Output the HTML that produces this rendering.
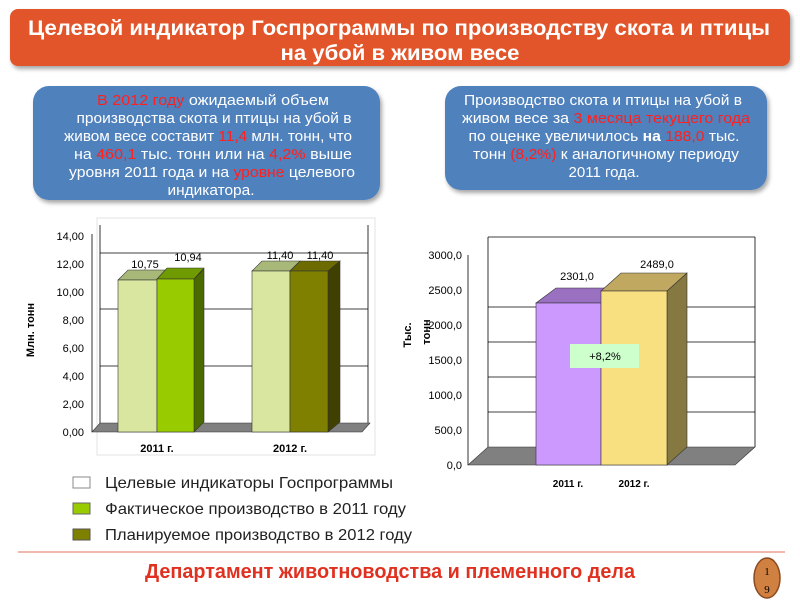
<!DOCTYPE html>
<html><head><meta charset="utf-8"><style>
body{margin:0;width:800px;height:600px;background:#fff;overflow:hidden;font-family:"Liberation Sans",sans-serif}
svg{position:absolute;left:0;top:0}
</style></head><body>
<svg width="800" height="600" xmlns="http://www.w3.org/2000/svg" font-family="Liberation Sans, sans-serif">
<defs>
<filter id="sh" x="-5%" y="-5%" width="115%" height="125%"><feDropShadow dx="2" dy="3" stdDeviation="2" flood-opacity="0.35"/></filter>
</defs>
<rect x="10" y="9" width="780" height="57" rx="8" fill="#e2542a" filter="url(#sh)"/>
<text x="399" y="35" fill="#fff" font-size="21" font-weight="bold" text-anchor="middle" textLength="742" lengthAdjust="spacingAndGlyphs">Целевой индикатор Госпрограммы по производству скота и птицы</text>
<text x="400" y="60" fill="#fff" font-size="21" font-weight="bold" text-anchor="middle" textLength="239" lengthAdjust="spacingAndGlyphs">на убой в живом весе</text>

<rect x="33" y="86" width="347" height="114" rx="16" fill="#4f81bd" filter="url(#sh)"/>
<g font-size="14.5" fill="#fff" text-anchor="middle">
<text x="213" y="105" textLength="232" lengthAdjust="spacingAndGlyphs"><tspan fill="#ff2020">В 2012 году</tspan>  ожидаемый объем</text>
<text x="214" y="123" textLength="275" lengthAdjust="spacingAndGlyphs">производства скота и птицы на убой в</text>
<text x="208" y="141" textLength="288" lengthAdjust="spacingAndGlyphs">живом весе составит <tspan fill="#ff2020">11,4</tspan>  млн. тонн, что</text>
<text x="213" y="159" textLength="278" lengthAdjust="spacingAndGlyphs">на <tspan fill="#ff2020">460,1</tspan> тыс. тонн или на  <tspan fill="#ff2020">4,2%</tspan>  выше</text>
<text x="212" y="177" textLength="286" lengthAdjust="spacingAndGlyphs">уровня 2011 года и на <tspan fill="#ff2020">уровне</tspan> целевого</text>
<text x="211" y="195" textLength="87" lengthAdjust="spacingAndGlyphs">индикатора.</text>
</g>
<rect x="445" y="86" width="322" height="104" rx="16" fill="#4f81bd" filter="url(#sh)"/>
<g font-size="14.5" fill="#fff" text-anchor="middle">
<text x="603" y="105" textLength="278" lengthAdjust="spacingAndGlyphs">Производство скота и птицы на убой в</text>
<text x="606" y="123" textLength="288" lengthAdjust="spacingAndGlyphs">живом весе за <tspan fill="#ff2020">3 месяца текущего года</tspan></text>
<text x="604" y="141" textLength="271" lengthAdjust="spacingAndGlyphs">по оценке увеличилось <tspan font-weight="bold">на</tspan> <tspan fill="#ff2020">188,0</tspan> тыс.</text>
<text x="606" y="159" textLength="266" lengthAdjust="spacingAndGlyphs">тонн <tspan fill="#ff2020">(8,2%)</tspan>  к аналогичному периоду</text>
<text x="604" y="177" textLength="71" lengthAdjust="spacingAndGlyphs">2011 года.</text>
</g>

<!-- left chart -->
<rect x="97" y="218" width="278" height="237" stroke="#ddd" stroke-width="0.8" fill="none"/>
<g stroke="#000" stroke-width="0.8">
<line x1="100" y1="225" x2="100" y2="423"/>
<line x1="100" y1="253" x2="368" y2="253"/>
<line x1="100" y1="309" x2="368" y2="309"/>
<line x1="100" y1="366" x2="368" y2="366"/>
<line x1="368" y1="225" x2="368" y2="423"/>
<line x1="92" y1="234" x2="92" y2="432"/>
</g>
<polygon points="92,432 100,423 370,423 362,432" fill="#808080" stroke="#333" stroke-width="0.6"/>
<g font-size="11" fill="#000" text-anchor="end">
<text x="84" y="240">14,00</text><text x="84" y="268">12,00</text><text x="84" y="296">10,00</text>
<text x="84" y="324">8,00</text><text x="84" y="352">6,00</text><text x="84" y="380">4,00</text>
<text x="84" y="408">2,00</text><text x="84" y="436">0,00</text>
</g>
<text transform="translate(34,330) rotate(-90)" font-size="11" font-weight="bold" text-anchor="middle">Млн. тонн</text>
<g stroke="#333" stroke-width="0.6">
<polygon points="118,280 157,280 167,270 128,270" fill="#a8b878"/>
<rect x="118" y="280" width="39" height="152" fill="#d9e6a0"/>
<polygon points="157,279 194,279 204,269 204,422 194,432" fill="#4a6a00"/>
<polygon points="157,279 194,279 204,268 167,268" fill="#6f9a00"/>
<rect x="157" y="279" width="37" height="153" fill="#99cc00"/>
<polygon points="252,271 290,271 300,261 262,261" fill="#a8b878"/>
<rect x="252" y="271" width="38" height="161" fill="#d9e6a0"/>
<polygon points="328,271 340,261 340,422 328,432" fill="#404000"/>
<polygon points="290,271 328,271 340,261 300,261" fill="#6b6b00"/>
<rect x="290" y="271" width="38" height="161" fill="#808000"/>
</g>
<g font-size="11" text-anchor="middle">
<text x="145" y="268">10,75</text><text x="188" y="261">10,94</text>
<text x="280" y="259">11,40</text><text x="320" y="259">11,40</text>
</g>
<g font-size="11" font-weight="bold" text-anchor="middle">
<text x="157" y="452">2011 г.</text><text x="290" y="452">2012 г.</text>
</g>

<!-- legend -->
<rect x="73" y="477" width="17" height="11" fill="#fff" stroke="#888"/>
<rect x="73" y="503" width="17" height="11" fill="#99cc00" stroke="#666"/>
<rect x="73" y="529" width="17" height="11" fill="#808000" stroke="#555"/>
<g font-size="16" fill="#222">
<text x="105" y="488" textLength="288" lengthAdjust="spacingAndGlyphs">Целевые индикаторы Госпрограммы</text>
<text x="105" y="514" textLength="301" lengthAdjust="spacingAndGlyphs">Фактическое производство в 2011 году</text>
<text x="105" y="540" textLength="307" lengthAdjust="spacingAndGlyphs">Планируемое производство в 2012 году</text>
</g>

<!-- right chart -->
<g stroke="#000" stroke-width="0.8">
<line x1="488" y1="237" x2="488" y2="447"/>
<line x1="755" y1="237" x2="755" y2="447"/>
<line x1="488" y1="237" x2="755" y2="237"/>
<line x1="488" y1="307" x2="755" y2="307"/>
<line x1="488" y1="342" x2="755" y2="342"/>
<line x1="488" y1="377" x2="755" y2="377"/>
<line x1="488" y1="412" x2="755" y2="412"/>
<line x1="468" y1="255" x2="468" y2="465"/>
</g>
<polygon points="468,465 488,447 755,447 735,465" fill="#808080" stroke="#333" stroke-width="0.6"/>
<g font-size="11" text-anchor="end">
<text x="462" y="259">3000,0</text><text x="462" y="294">2500,0</text><text x="462" y="329">2000,0</text>
<text x="462" y="364">1500,0</text><text x="462" y="399">1000,0</text><text x="462" y="434">500,0</text>
<text x="462" y="469">0,0</text>
</g>
<text transform="translate(411,335) rotate(-90)" font-size="11" font-weight="bold" text-anchor="middle">Тыс.</text>
<text transform="translate(430,332) rotate(-90)" font-size="11" font-weight="bold" text-anchor="middle">тонн</text>
<g stroke="#333" stroke-width="0.6">
<polygon points="536,303 601,303 621,288 556,288" fill="#9a70c0"/>
<rect x="536" y="303" width="65" height="162" fill="#cc99ff"/>
<polygon points="667,291 687,273 687,447 667,465" fill="#857840"/>
<polygon points="601,291 667,291 687,273 621,273" fill="#c0a860"/>
<rect x="601" y="291" width="66" height="174" fill="#f8e080"/>
</g>
<rect x="570" y="344" width="69" height="24" fill="#ccffcc"/>
<text x="605" y="360" font-size="11" text-anchor="middle">+8,2%</text>
<g font-size="11" text-anchor="middle">
<text x="577" y="280">2301,0</text><text x="657" y="268">2489,0</text>
</g>
<g font-size="10" font-weight="bold" text-anchor="middle">
<text x="568" y="487">2011 г.</text><text x="634" y="487">2012 г.</text>
</g>

<line x1="18" y1="552" x2="785" y2="552" stroke="#e8a090" stroke-width="1.5"/>
<text x="390" y="578" font-size="20" font-weight="bold" fill="#e03020" text-anchor="middle" textLength="490" lengthAdjust="spacingAndGlyphs">Департамент животноводства и племенного дела</text>
<ellipse cx="767" cy="578" rx="13" ry="20" fill="#d08040" stroke="#8a4a20" stroke-width="1.5"/>
<text x="767" y="575" font-size="11" text-anchor="middle" font-family="Liberation Serif, serif">1</text>
<text x="767" y="593" font-size="11" text-anchor="middle" font-family="Liberation Serif, serif">9</text>
</svg>
</body></html>
